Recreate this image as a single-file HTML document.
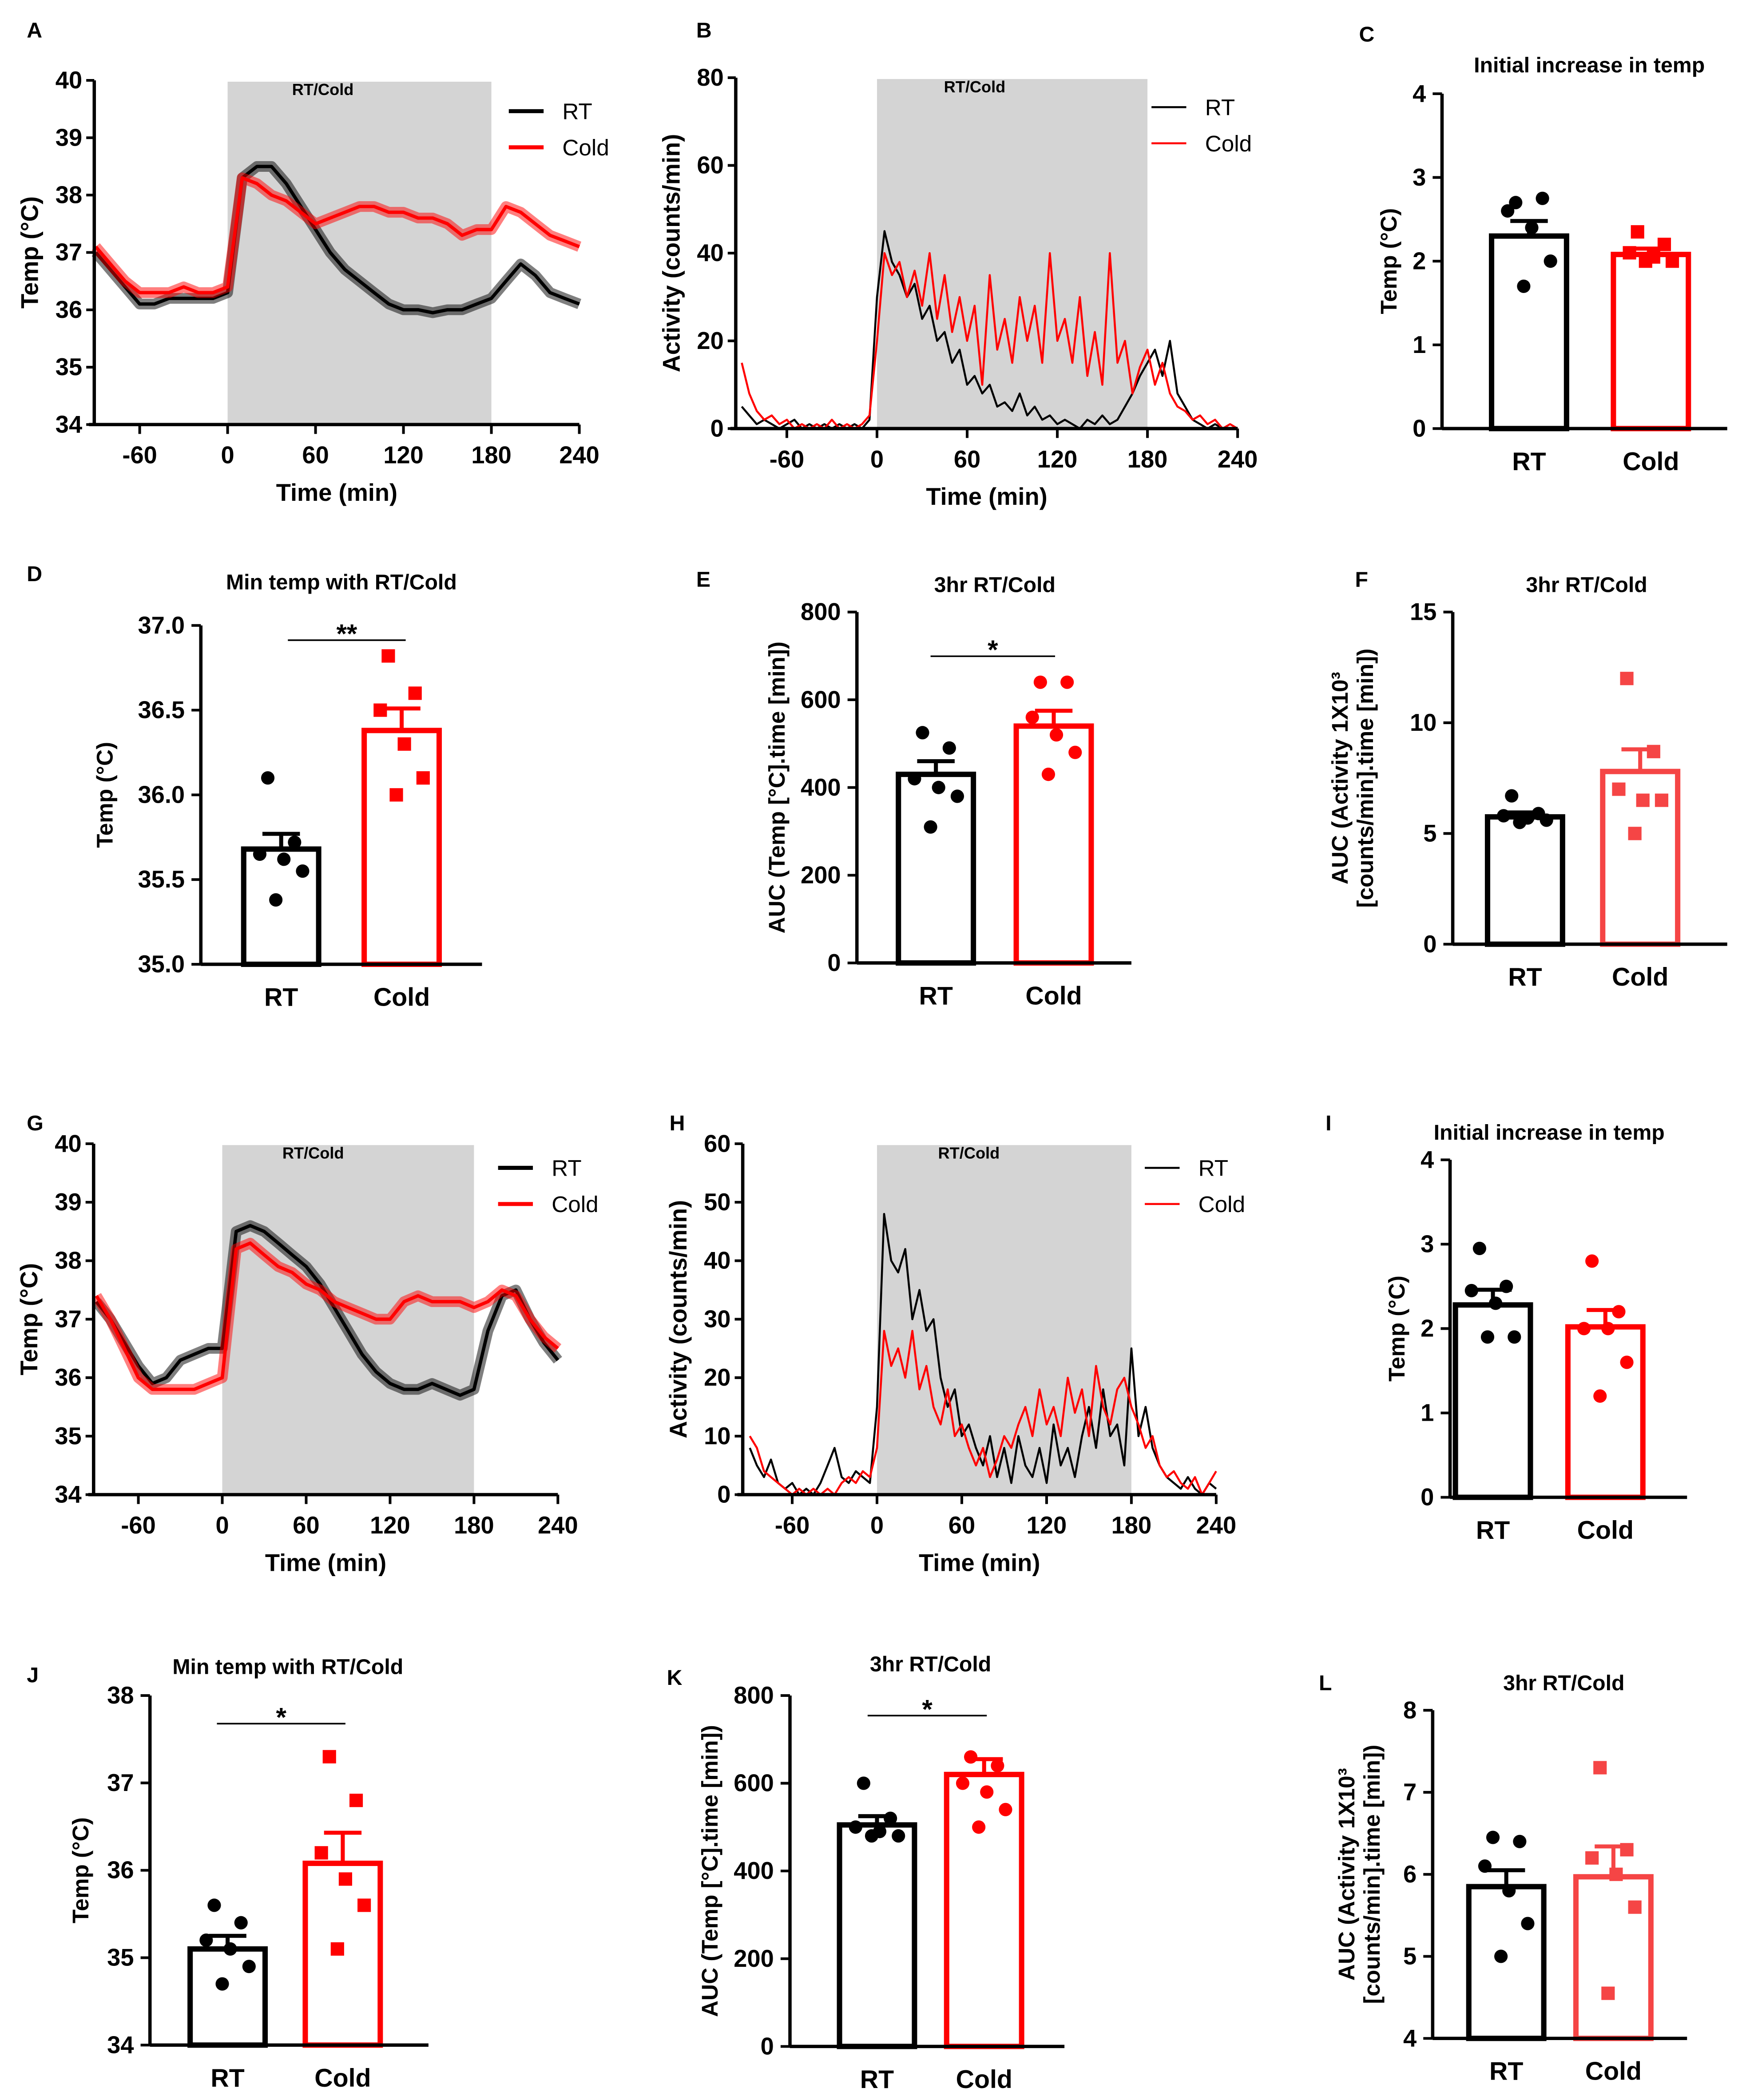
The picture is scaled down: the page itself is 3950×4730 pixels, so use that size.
<!DOCTYPE html>
<html><head><meta charset="utf-8"><style>
html,body{margin:0;padding:0;background:#fff;}
svg{display:block;font-family:"Liberation Sans",Arial,sans-serif;}
</style></head><body>
<svg id="fig" xmlns="http://www.w3.org/2000/svg" width="3950" height="4730" viewBox="0 0 1310 1568" preserveAspectRatio="none"></svg>
<script>
// ---- time-series data (10-min steps from -90 to 240 for temp) ----
const tempTimes = [-90,-80,-70,-60,-50,-40,-30,-20,-10,0,10,20,30,40,50,60,70,80,90,100,110,120,130,140,150,160,170,180,190,200,210,220,230,240];
const aRT   = [37.0,36.7,36.4,36.1,36.1,36.2,36.2,36.2,36.2,36.3,38.3,38.5,38.5,38.2,37.8,37.4,37.0,36.7,36.5,36.3,36.1,36.0,36.0,35.95,36.0,36.0,36.1,36.2,36.5,36.8,36.6,36.3,36.2,36.1];
const aCold = [37.1,36.8,36.5,36.3,36.3,36.3,36.4,36.3,36.3,36.4,38.3,38.2,38.0,37.9,37.7,37.5,37.6,37.7,37.8,37.8,37.7,37.7,37.6,37.6,37.5,37.3,37.4,37.4,37.8,37.7,37.5,37.3,37.2,37.1];
const gRT   = [37.3,37.0,36.6,36.2,35.9,36.0,36.3,36.4,36.5,36.5,38.5,38.6,38.5,38.3,38.1,37.9,37.6,37.2,36.8,36.4,36.1,35.9,35.8,35.8,35.9,35.8,35.7,35.8,36.8,37.4,37.5,37.0,36.6,36.3];
const gCold = [37.4,37.0,36.5,36.0,35.8,35.8,35.8,35.8,35.9,36.0,38.2,38.3,38.1,37.9,37.8,37.6,37.5,37.3,37.2,37.1,37.0,37.0,37.3,37.4,37.3,37.3,37.3,37.2,37.3,37.5,37.4,37.0,36.7,36.5];
// activity (5-min steps from -90 to 240)
const actTimes = [-90,-85,-80,-75,-70,-65,-60,-55,-50,-45,-40,-35,-30,-25,-20,-15,-10,-5,0,5,10,15,20,25,30,35,40,45,50,55,60,65,70,75,80,85,90,95,100,105,110,115,120,125,130,135,140,145,150,155,160,165,170,175,180,185,190,195,200,205,210,215,220,225,230,235,240];
const bRT   = [5,3,1,2,1,0,1,2,0,1,0,1,0,1,0,1,0,2,30,45,38,35,30,33,25,28,20,22,15,18,10,12,8,10,5,6,4,8,3,5,2,3,1,2,1,0,2,1,3,1,2,5,8,12,15,18,12,20,8,5,2,1,0,1,0,0,0];
const bCold = [15,8,4,2,3,1,2,0,1,0,1,0,2,0,1,0,1,3,20,40,35,38,30,36,28,40,25,35,22,30,20,28,10,35,18,25,15,30,20,28,15,40,20,25,15,30,12,22,10,40,15,20,8,14,18,10,15,8,5,4,2,3,1,2,0,1,0];
const hRT   = [8,5,3,6,2,1,2,0,1,0,2,5,8,3,2,4,3,2,15,48,40,38,42,30,35,28,30,20,15,18,10,12,8,5,10,3,8,2,10,5,3,8,2,12,5,8,3,10,15,8,18,10,12,5,25,10,15,8,5,3,2,1,3,1,0,2,1];
const hCold = [10,8,4,3,2,1,0,1,0,1,0,1,0,2,3,2,4,3,8,28,22,25,20,28,18,22,15,12,18,10,12,8,5,8,3,6,10,8,12,15,10,18,12,15,10,20,14,18,10,22,15,12,18,20,15,12,8,10,5,3,4,2,1,3,0,2,4];
// ---- bar data ----
const barGroups = ["RT","Cold"];
const cMeans=[2.3,2.08], cSems=[0.18,0.07], cPtsRT=[2.7,2.75,2.6,2.4,2.0,1.7], cPtsCold=[2.35,2.2,2.1,2.05,2.0,2.0];
const dMeans=[35.68,36.38], dSems=[0.09,0.13], dPtsRT=[36.1,35.72,35.65,35.62,35.55,35.38], dPtsCold=[36.82,36.6,36.5,36.3,36.1,36.0];
const eMeans=[430,540], eSems=[30,35], ePtsRT=[525,490,420,400,380,310], ePtsCold=[640,640,560,520,480,430];
const fMeans=[5.75,7.8], fSems=[0.2,1.0], fPtsRT=[6.7,5.9,5.8,5.7,5.6,5.5], fPtsCold=[12,8.7,7.0,6.5,6.5,5.0];
const iMeans=[2.28,2.02], iSems=[0.18,0.2], iPtsRT=[2.95,2.5,2.45,2.3,1.9,1.9], iPtsCold=[2.8,2.2,2.0,2.0,1.6,1.2];
const jMeans=[35.1,36.08], jSems=[0.15,0.35], jPtsRT=[35.6,35.4,35.2,35.1,34.9,34.7], jPtsCold=[37.3,36.8,36.2,35.9,35.6,35.1];
const kMeans=[505,620], kSems=[20,35], kPtsRT=[600,520,500,490,480,480], kPtsCold=[660,640,600,580,540,500];
const lMeans=[5.85,5.97], lSems=[0.2,0.37], lPtsRT=[6.45,6.4,6.1,5.8,5.4,5.0], lPtsCold=[7.3,6.3,6.2,6.0,5.6,4.55];

const NS="http://www.w3.org/2000/svg";
const root=document.getElementById('fig');
function el(tag,attrs,parent){const e=document.createElementNS(NS,tag);for(const k in attrs)e.setAttribute(k,attrs[k]);(parent||root).appendChild(e);return e;}
function txt(s,x,y,size,parent,opts){const o=Object.assign({x:x,y:y,'font-size':size,'text-anchor':'middle','font-weight':'bold',fill:'#000'},opts||{});const t=el('text',o,parent);t.textContent=s;return t;}

const letters=[["A",20,22],["B",520,22],["C",1015,25],["D",20,428],["E",520,432],["F",1012,432],["G",20,838],["H",500,838],["I",990,838],["J",20,1250],["K",498,1252],["L",985,1256]];
letters.forEach(l=>{const t=txt(l[0],l[1],l[2]+6,16,root,{'text-anchor':'start'});

});

function tsPanel(c){
  const g=el('g',{});
  
  
  const sx=t=>c.x0+(t-0)*(c.x180-c.x0)/180;
  const sy=v=>c.yb-(v-c.ymin)*(c.yb-c.yt)/(c.ymax-c.ymin);
  const xl=sx(c.tmin), xr=sx(240);
  const sh=el('rect',{x:sx(0),y:c.yt+1,width:sx(180)-sx(0),height:c.yb-c.yt-1,fill:'#d4d4d4'},g);
  
  
  txt('RT/Cold',sx(65),c.yt+11,12,g);
  c.series.forEach(s=>{
    const pts=s.vals.map((v,i)=>sx(s.times[i]).toFixed(1)+','+sy(v).toFixed(1)).join(' ');
    if(s.band){const b=el('polyline',{points:pts,fill:'none',stroke:s.color,'stroke-width':8,'stroke-opacity':0.5,'stroke-linejoin':'round'},g);
      
      }
    const p=el('polyline',{points:pts,fill:'none',stroke:s.color,'stroke-width':s.band?2.5:1.5,'stroke-linejoin':'round'},g);
    
    
  });
  const ya=el('line',{x1:xl,y1:c.yt,x2:xl,y2:c.yb,stroke:'#000','stroke-width':2.5},g);
  
  
  const xa=el('line',{x1:xl-4,y1:c.yb,x2:xr,y2:c.yb,stroke:'#000','stroke-width':2.5},g);
  
  
  c.yticks.forEach(v=>{el('line',{x1:xl-6,y1:sy(v),x2:xl,y2:sy(v),stroke:'#000','stroke-width':2},g);
    txt(String(v),xl-9,sy(v)+6,18,g,{'text-anchor':'end'});});
  [-60,0,60,120,180,240].forEach(t=>{el('line',{x1:sx(t),y1:c.yb,x2:sx(t),y2:c.yb+7,stroke:'#000','stroke-width':2},g);
    txt(String(t),sx(t),c.yb+29,18,g);});
  const yt=txt(c.ylabel,0,0,18,g,{transform:`translate(${xl-42},${(c.yt+c.yb)/2}) rotate(-90)`});
  
  
  const xt=txt('Time (min)',(xl+xr)/2,c.yb+57,18,g);
  
  
  c.series.forEach((s,i)=>{const ly=c.legY+i*27;
    const lg=el('line',{x1:c.legX,y1:ly,x2:c.legX+26,y2:ly,stroke:s.color,'stroke-width':s.band?3:1.5},g);
    
    
    txt(s.label,c.legX+40,ly+6,17,g,{'text-anchor':'start','font-weight':'normal'});});
}
tsPanel({id:'a',x0:170,x180:367,tmin:-91,yt:60,yb:317,ymin:34,ymax:40,yticks:[34,35,36,37,38,39,40],ylabel:'Temp (°C)',legX:380,legY:83,
  series:[{name:'rt',label:'RT',color:'#000',band:true,times:tempTimes,vals:aRT},{name:'cold',label:'Cold',color:'#f00',band:true,times:tempTimes,vals:aCold}]});
tsPanel({id:'b',x0:655,x180:857,tmin:-94,yt:58,yb:320,ymin:0,ymax:80,yticks:[0,20,40,60,80],ylabel:'Activity (counts/min)',legX:860,legY:80,
  series:[{name:'rt',label:'RT',color:'#000',band:false,times:actTimes,vals:bRT},{name:'cold',label:'Cold',color:'#f00',band:false,times:actTimes,vals:bCold}]});
tsPanel({id:'g',x0:166,x180:354,tmin:-92,yt:854,yb:1116,ymin:34,ymax:40,yticks:[34,35,36,37,38,39,40],ylabel:'Temp (°C)',legX:372,legY:872,
  series:[{name:'rt',label:'RT',color:'#000',band:true,times:tempTimes,vals:gRT},{name:'cold',label:'Cold',color:'#f00',band:true,times:tempTimes,vals:gCold}]});
tsPanel({id:'h',x0:655,x180:845,tmin:-95,yt:854,yb:1116,ymin:0,ymax:60,yticks:[0,10,20,30,40,50,60],ylabel:'Activity (counts/min)',legX:855,legY:872,
  series:[{name:'rt',label:'RT',color:'#000',band:false,times:actTimes,vals:hRT},{name:'cold',label:'Cold',color:'#f00',band:false,times:actTimes,vals:hCold}]});

function barPanel(c){
  const g=el('g',{});
  
  
  const sy=v=>c.yb-(v-c.ymin)*(c.yb-c.yt)/(c.ymax-c.ymin);
  const bw=56;
  const cols=['#000',c.coldColor||'#f00'];
  [0,1].forEach(i=>{
    const cx=c.cx[i];const top=sy(c.means[i]);
    const r=el('rect',{x:cx-bw/2,y:top,width:bw,height:c.yb-top,fill:'#fff',stroke:cols[i],'stroke-width':4},g);
    
    
    const e1=sy(c.means[i]+c.sems[i]);
    const eb=el('path',{d:`M${cx},${top} V${e1} M${cx-14},${e1} H${cx+14}`,stroke:cols[i],'stroke-width':3,fill:'none'},g);
    
    
    const pts=i==0?c.ptsRT:c.ptsCold;
    const offs=[-10,10,-16,2,16,-4];
    pts.forEach((v,j)=>{const px=cx+offs[j%6],py=sy(v);
      let m;
      if(i==0||c.circleCold) m=el('circle',{cx:px,cy:py,r:5,fill:cols[i]},g);
      else m=el('rect',{x:px-5,y:py-5,width:10,height:10,fill:cols[i]},g);
      
      });
    txt(barGroups[i],cx,c.yb+31,19,g);
  });
  const ya=el('line',{x1:c.ax,y1:c.yt,x2:c.ax,y2:c.yb,stroke:'#000','stroke-width':2.5},g);
  
  
  const xa=el('line',{x1:c.ax,y1:c.yb,x2:c.axr,y2:c.yb,stroke:'#000','stroke-width':2.5},g);
  
  
  c.yticks.forEach(v=>{el('line',{x1:c.ax-7,y1:sy(v),x2:c.ax,y2:sy(v),stroke:'#000','stroke-width':2},g);
    txt(c.fmt?v.toFixed(1):String(v),c.ax-12,sy(v)+6,18,g,{'text-anchor':'end'});});
  const tt=txt(c.title,c.tx,c.ty,16,g);
  
  
  const yl=el('text',{transform:`translate(${c.ax-c.ylOff},${(c.yt+c.yb)/2}) rotate(-90)`,'text-anchor':'middle','font-weight':'bold','font-size':17},g);
  
  
  c.ylabel.forEach((s,k)=>{const ts=el('tspan',{x:0,y:(k-(c.ylabel.length-1)/2)*19+6},yl);ts.textContent=s;});
  if(c.sig){const sl=el('line',{x1:c.sig[0],y1:c.sig[2],x2:c.sig[1],y2:c.sig[2],stroke:'#000','stroke-width':1.2},g);
    
    
    txt(c.sig[3],(c.sig[0]+c.sig[1])/2,c.sig[2]+2,20,g);}
}
const tempLbl=['Temp (°C)'], aucT=['AUC (Temp [°C].time [min])'], aucA=['AUC (Activity 1X10³','[counts/min].time [min])'];
barPanel({id:'c',ax:1077,axr:1290,yt:70,yb:320,ymin:0,ymax:4,yticks:[0,1,2,3,4],cx:[1142,1233],means:cMeans,sems:cSems,ptsRT:cPtsRT,ptsCold:cPtsCold,title:'Initial increase in temp',tx:1187,ty:54,ylabel:tempLbl,ylOff:40});
barPanel({id:'d',ax:150,axr:360,yt:467,yb:720,ymin:35,ymax:37,yticks:[35,35.5,36,36.5,37],fmt:true,cx:[210,300],means:dMeans,sems:dSems,ptsRT:dPtsRT,ptsCold:dPtsCold,title:'Min temp with RT/Cold',tx:255,ty:440,ylabel:tempLbl,ylOff:72,sig:[215,303,478,'**']});
barPanel({id:'e',ax:640,axr:845,yt:457,yb:719,ymin:0,ymax:800,yticks:[0,200,400,600,800],cx:[699,787],means:eMeans,sems:eSems,ptsRT:ePtsRT,ptsCold:ePtsCold,circleCold:true,title:'3hr RT/Cold',tx:743,ty:442,ylabel:aucT,ylOff:60,sig:[695,788,490,'*']});
barPanel({id:'f',ax:1085,axr:1290,yt:457,yb:705,ymin:0,ymax:15,yticks:[0,5,10,15],cx:[1139,1225],means:fMeans,sems:fSems,ptsRT:fPtsRT,ptsCold:fPtsCold,coldColor:'#f54545',title:'3hr RT/Cold',tx:1185,ty:442,ylabel:aucA,ylOff:75});
barPanel({id:'i',ax:1083,axr:1260,yt:866,yb:1118,ymin:0,ymax:4,yticks:[0,1,2,3,4],cx:[1115,1199],means:iMeans,sems:iSems,ptsRT:iPtsRT,ptsCold:iPtsCold,circleCold:true,title:'Initial increase in temp',tx:1157,ty:851,ylabel:tempLbl,ylOff:40});
barPanel({id:'j',ax:112,axr:320,yt:1266,yb:1527,ymin:34,ymax:38,yticks:[34,35,36,37,38],cx:[170,256],means:jMeans,sems:jSems,ptsRT:jPtsRT,ptsCold:jPtsCold,title:'Min temp with RT/Cold',tx:215,ty:1250,ylabel:tempLbl,ylOff:52,sig:[162,258,1287,'*']});
barPanel({id:'k',ax:590,axr:795,yt:1266,yb:1528,ymin:0,ymax:800,yticks:[0,200,400,600,800],cx:[655,735],means:kMeans,sems:kSems,ptsRT:kPtsRT,ptsCold:kPtsCold,circleCold:true,title:'3hr RT/Cold',tx:695,ty:1248,ylabel:aucT,ylOff:60,sig:[648,737,1281,'*']});
barPanel({id:'l',ax:1070,axr:1260,yt:1277,yb:1522,ymin:4,ymax:8,yticks:[4,5,6,7,8],cx:[1125,1205],means:lMeans,sems:lSems,ptsRT:lPtsRT,ptsCold:lPtsCold,coldColor:'#f54545',title:'3hr RT/Cold',tx:1168,ty:1262,ylabel:aucA,ylOff:55});
</script>
</body></html>
